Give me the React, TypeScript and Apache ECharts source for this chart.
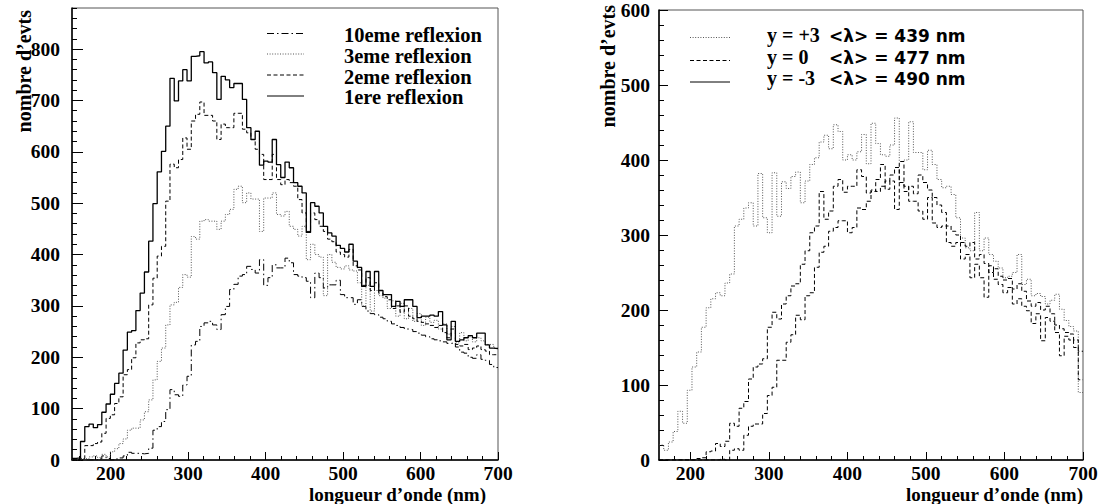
import React, { useEffect, useRef } from 'react';
import * as echarts from 'echarts';

// ---------- binning ----------
const LEFT_START = 150;
const LEFT_BIN = 5.5;
const RIGHT_START = 160;
const RIGHT_BIN = 6;

// ---------- tick values ----------
const LEFT_X_MAJOR = [200, 300, 400, 500, 600, 700];
const LEFT_X_MINOR = [160, 180, 200, 220, 240, 260, 280, 300, 320, 340, 360, 380, 400, 420, 440, 460, 480, 500, 520, 540, 560, 580, 600, 620, 640, 660, 680, 700];
const RIGHT_X_MAJOR = [200, 300, 400, 500, 600, 700];
const RIGHT_X_MINOR = [180, 200, 220, 240, 260, 280, 300, 320, 340, 360, 380, 400, 420, 440, 460, 480, 500, 520, 540, 560, 580, 600, 620, 640, 660, 680, 700];

// ---------- left panel series (counts per bin) ----------
const refl1 = [3, 4, 36, 65, 70, 63, 69, 93, 109, 128, 149, 169, 214, 249, 252, 291, 325, 366, 426, 499,
  561, 601, 650, 743, 699, 738, 760, 738, 786, 787, 795, 773, 775, 754, 702, 747, 740, 725, 733, 733,
  702, 647, 624, 640, 574, 582, 580, 624, 575, 550, 580, 569, 540, 533, 520, 443, 501, 494, 481, 455,
  442, 436, 418, 412, 405, 420, 387, 375, 338, 367, 338, 367, 330, 322, 322, 299, 309, 299, 312, 312,
  299, 277, 280, 280, 282, 280, 289, 263, 234, 270, 231, 234, 238, 242, 238, 247, 247, 224, 218, 217];
const refl2 = [0, 1, 3, 28, 28, 32, 35, 52, 81, 88, 110, 123, 166, 176, 199, 228, 234, 236, 302, 354,
  397, 416, 504, 576, 569, 585, 627, 605, 660, 673, 697, 671, 671, 660, 624, 654, 647, 647, 675, 675,
  644, 637, 624, 605, 595, 546, 546, 595, 546, 536, 546, 540, 533, 507, 481, 445, 481, 468, 455, 445,
  430, 425, 405, 400, 395, 410, 378, 370, 340, 355, 330, 345, 325, 318, 312, 295, 300, 288, 300, 280,
  275, 270, 268, 265, 262, 258, 262, 248, 238, 255, 225, 222, 225, 215, 218, 222, 215, 212, 205, 205];
const refl3 = [0, 0, 3, 2, 6, 8, 5, 11, 6, 16, 22, 32, 41, 58, 62, 62, 78, 94, 117, 156,
  192, 218, 263, 302, 307, 336, 361, 356, 435, 430, 465, 468, 465, 465, 449, 465, 478, 488, 527, 533,
  501, 520, 508, 508, 445, 510, 510, 520, 478, 475, 484, 455, 449, 436, 455, 390, 420, 400, 395, 320,
  400, 385, 375, 372, 378, 370, 368, 345, 300, 340, 290, 330, 320, 315, 295, 310, 280, 305, 275, 295,
  270, 285, 262, 278, 268, 272, 255, 265, 245, 260, 228, 248, 232, 240, 230, 238, 232, 225, 225, 218];
const refl10 = [0, 0, 0, 0, 0, 0, 2, 8, 3, 0, 2, 4, 8, 15, 13, 13, 12, 13, 23, 58,
  65, 75, 98, 137, 127, 124, 146, 163, 224, 231, 260, 267, 270, 263, 254, 283, 299, 332, 342, 358,
  361, 377, 371, 364, 390, 340, 355, 380, 374, 374, 393, 384, 361, 358, 355, 348, 316, 364, 355, 335,
  341, 341, 350, 322, 316, 316, 303, 312, 299, 290, 285, 283, 278, 275, 270, 265, 262, 258, 255, 254,
  250, 247, 243, 240, 236, 234, 232, 230, 227, 228, 220, 210, 208, 200, 198, 205, 196, 194, 186, 180];

// ---------- right panel series ----------
const yPlus3 = [20, 13, 24, 38, 65, 49, 93, 124, 144, 177, 203, 215, 223, 219, 236, 248, 312, 321, 336, 343,
  312, 382, 323, 303, 383, 325, 371, 362, 378, 384, 343, 372, 394, 403, 424, 433, 415, 447, 438, 400,
  407, 400, 411, 434, 395, 449, 422, 407, 405, 420, 456, 398, 400, 451, 410, 410, 387, 413, 394, 374,
  363, 365, 354, 323, 296, 283, 279, 330, 279, 296, 274, 265, 256, 243, 245, 250, 274, 234, 241, 219,
  222, 218, 208, 213, 221, 201, 186, 178, 172, 90];
const yZero = [0, 0, 0, 0, 0, 0, 0, 0, 2, 3, 11, 12, 22, 18, 25, 49, 45, 69, 78, 108,
  124, 128, 135, 177, 197, 188, 208, 219, 232, 235, 261, 279, 303, 312, 358, 321, 332, 365, 374, 357,
  365, 365, 387, 378, 356, 358, 374, 394, 361, 372, 334, 398, 365, 345, 345, 332, 321, 350, 316, 310,
  312, 290, 285, 290, 268, 274, 243, 261, 243, 217, 259, 241, 234, 223, 230, 208, 215, 205, 199, 182,
  195, 159, 190, 185, 170, 139, 165, 160, 150, 145];
const yMinus3 = [0, 0, 0, 0, 0, 0, 0, 0, 0, 0, 0, 0, 0, 1, 0, 13, 15, 13, 33, 45,
  48, 48, 62, 86, 97, 133, 133, 157, 167, 193, 187, 219, 223, 257, 277, 285, 305, 310, 319, 319,
  303, 310, 336, 334, 345, 360, 358, 365, 372, 380, 390, 370, 358, 365, 355, 380, 370, 360, 350, 340,
  330, 312, 305, 300, 290, 285, 290, 268, 274, 262, 250, 255, 245, 240, 242, 228, 235, 225, 212, 205,
  210, 200, 205, 195, 180, 175, 170, 168, 160, 107];

const LEFT_LEGEND = ['10eme reflexion', '3eme reflexion', '2eme reflexion', '1ere reflexion'];
const RIGHT_LEGEND_Y = ['y = +3', 'y = 0', 'y = -3'];
const RIGHT_LEGEND_L = ['<\u03bb> = 439 nm', '<\u03bb> = 477 nm', '<\u03bb> = 490 nm'];

const SERIF = 'Liberation Serif';
const DASHDOT = [7, 3, 1.5, 3];
const DOTTED = [1, 1.6];
const DASHED = [4, 2.5];

function hist(start: number, width: number, values: number[]) {
  const pts = values.map((v, i) => [start + i * width, v]);
  pts.push([start + values.length * width, values[values.length - 1]]);
  return pts;
}

const labelStyle = { fontFamily: SERIF, fontWeight: 'bold', fontSize: 19.5, color: '#000' };

function xMajor(grid: number, min: number, vals: number[]) {
  return {
    type: 'value', gridIndex: grid, min, max: 700, position: 'bottom',
    axisLine: { show: true, onZero: false, lineStyle: { color: '#000', width: 1.5 } },
    axisTick: { show: true, inside: true, length: 8, customValues: vals, lineStyle: { color: '#000', width: 1 } },
    axisLabel: { show: true, customValues: vals, margin: 3, ...labelStyle },
    splitLine: { show: false },
  };
}
function xMinor(grid: number, min: number, vals: number[]) {
  return {
    type: 'value', gridIndex: grid, min, max: 700, position: 'bottom',
    axisLine: { show: false },
    axisTick: { show: true, inside: true, length: 4, customValues: vals, lineStyle: { color: '#000', width: 1 } },
    axisLabel: { show: false },
    splitLine: { show: false },
  };
}
function yMajor(grid: number, max: number, tickLen: number, margin: number) {
  return {
    type: 'value', gridIndex: grid, min: 0, max, interval: 100, position: 'left',
    axisLine: { show: true, onZero: false, lineStyle: { color: '#000', width: 1.5 } },
    axisTick: { show: true, inside: true, length: tickLen, lineStyle: { color: '#000', width: 1 } },
    axisLabel: { show: true, showMaxLabel: max % 100 === 0, margin, ...labelStyle },
    splitLine: { show: false },
  };
}
function yMinor(grid: number, max: number) {
  return {
    type: 'value', gridIndex: grid, min: 0, max, interval: 20, position: 'left',
    axisLine: { show: false },
    axisTick: { show: true, inside: true, length: 5, lineStyle: { color: '#000', width: 1 } },
    axisLabel: { show: false },
    splitLine: { show: false },
  };
}

function line(name: string, data: number[][], xi: number, yi: number, type: any, color: string, width: number) {
  return {
    name, type: 'line', step: 'end', data, xAxisIndex: xi, yAxisIndex: yi,
    showSymbol: false, symbol: 'none', silent: true,
    lineStyle: { color, width, type },
  };
}

function legendLine(x1: number, x2: number, y: number, dash: any, color: string) {
  return {
    type: 'line', shape: { x1, y1: y, x2, y2: y },
    style: { stroke: color, lineWidth: 1, lineDash: dash },
  };
}
function txt(x: number, y: number, text: string, family: string, size: number, align = 'left', rotation = 0) {
  return {
    type: 'text', x, y, rotation,
    style: {
      text, fontFamily: family, fontWeight: 'bold', fontSize: size, fill: '#000',
      textAlign: align, textVerticalAlign: 'middle',
    },
  };
}

const option: any = {
  animation: false,
  backgroundColor: '#fff',
  grid: [
    { left: 72, top: 8, width: 426, height: 452, show: true, borderColor: '#555', borderWidth: 1, backgroundColor: 'transparent' },
    { left: 659, top: 8, width: 424, height: 452, show: true, borderColor: '#555', borderWidth: 1, backgroundColor: 'transparent' },
  ],
  xAxis: [
    xMajor(0, LEFT_START, LEFT_X_MAJOR),
    xMinor(0, LEFT_START, LEFT_X_MINOR),
    xMajor(1, RIGHT_START, RIGHT_X_MAJOR),
    xMinor(1, RIGHT_START, RIGHT_X_MINOR),
  ],
  yAxis: [
    yMajor(0, 880, 11, 12),
    yMinor(0, 880),
    yMajor(1, 600, 9, 9),
    yMinor(1, 600),
  ],
  series: [
    line('10eme reflexion', hist(LEFT_START, LEFT_BIN, refl10), 0, 0, DASHDOT, '#000', 1),
    line('3eme reflexion', hist(LEFT_START, LEFT_BIN, refl3), 0, 0, DOTTED, '#555', 1),
    line('2eme reflexion', hist(LEFT_START, LEFT_BIN, refl2), 0, 0, DASHED, '#000', 1),
    line('1ere reflexion', hist(LEFT_START, LEFT_BIN, refl1), 0, 0, 'solid', '#000', 1.3),
    line('y = +3', hist(RIGHT_START, RIGHT_BIN, yPlus3), 2, 2, DOTTED, '#555', 1),
    line('y = 0', hist(RIGHT_START, RIGHT_BIN, yZero), 2, 2, DASHED, '#000', 1),
    line('y = -3', hist(RIGHT_START, RIGHT_BIN, yMinus3), 2, 2, DASHED, '#000', 1),
  ],
  graphic: [
    // left legend
    legendLine(267, 304, 33.5, DASHDOT, '#000'),
    legendLine(267, 304, 54, DOTTED, '#555'),
    legendLine(267, 304, 75, DASHED, '#000'),
    legendLine(267, 304, 96, null, '#000'),
    txt(344, 35, LEFT_LEGEND[0], SERIF, 20.5),
    txt(344, 55.5, LEFT_LEGEND[1], SERIF, 20.5),
    txt(344, 76.5, LEFT_LEGEND[2], SERIF, 20.5),
    txt(344, 96.5, LEFT_LEGEND[3], SERIF, 20.5),
    // right legend
    legendLine(690, 730, 37.5, DOTTED, '#555'),
    legendLine(690, 730, 60.5, DASHED, '#000'),
    legendLine(690, 730, 82, null, '#000'),
    txt(767, 35, RIGHT_LEGEND_Y[0], SERIF, 20),
    txt(767, 56.5, RIGHT_LEGEND_Y[1], SERIF, 20),
    txt(767, 78, RIGHT_LEGEND_Y[2], SERIF, 20),
    txt(829, 36, RIGHT_LEGEND_L[0], 'DejaVu Sans', 17),
    txt(829, 57.5, RIGHT_LEGEND_L[1], 'DejaVu Sans', 17),
    txt(829, 79, RIGHT_LEGEND_L[2], 'DejaVu Sans', 17),
    // axis titles
    txt(24, 10, "nombre d\u2019evts", SERIF, 20, 'right', Math.PI / 2),
    txt(608, 5, "nombre d\u2019evts", SERIF, 20, 'right', Math.PI / 2),
    txt(486, 494, "longueur d\u2019onde (nm)", SERIF, 19, 'right'),
    txt(1083, 494, "longueur d\u2019onde (nm)", SERIF, 19, 'right'),
  ],
};

export default function App() {
  const ref = useRef<HTMLDivElement>(null);
  useEffect(() => {
    const chart = echarts.init(ref.current as HTMLDivElement, null, { renderer: 'svg' });
    chart.setOption(option);
    return () => chart.dispose();
  }, []);
  return (
    <div style={{ position: 'fixed', left: 0, top: 0, width: 1102, height: 504, background: '#fff' }}>
      <div ref={ref} style={{ width: 1102, height: 504 }} />
    </div>
  );
}
